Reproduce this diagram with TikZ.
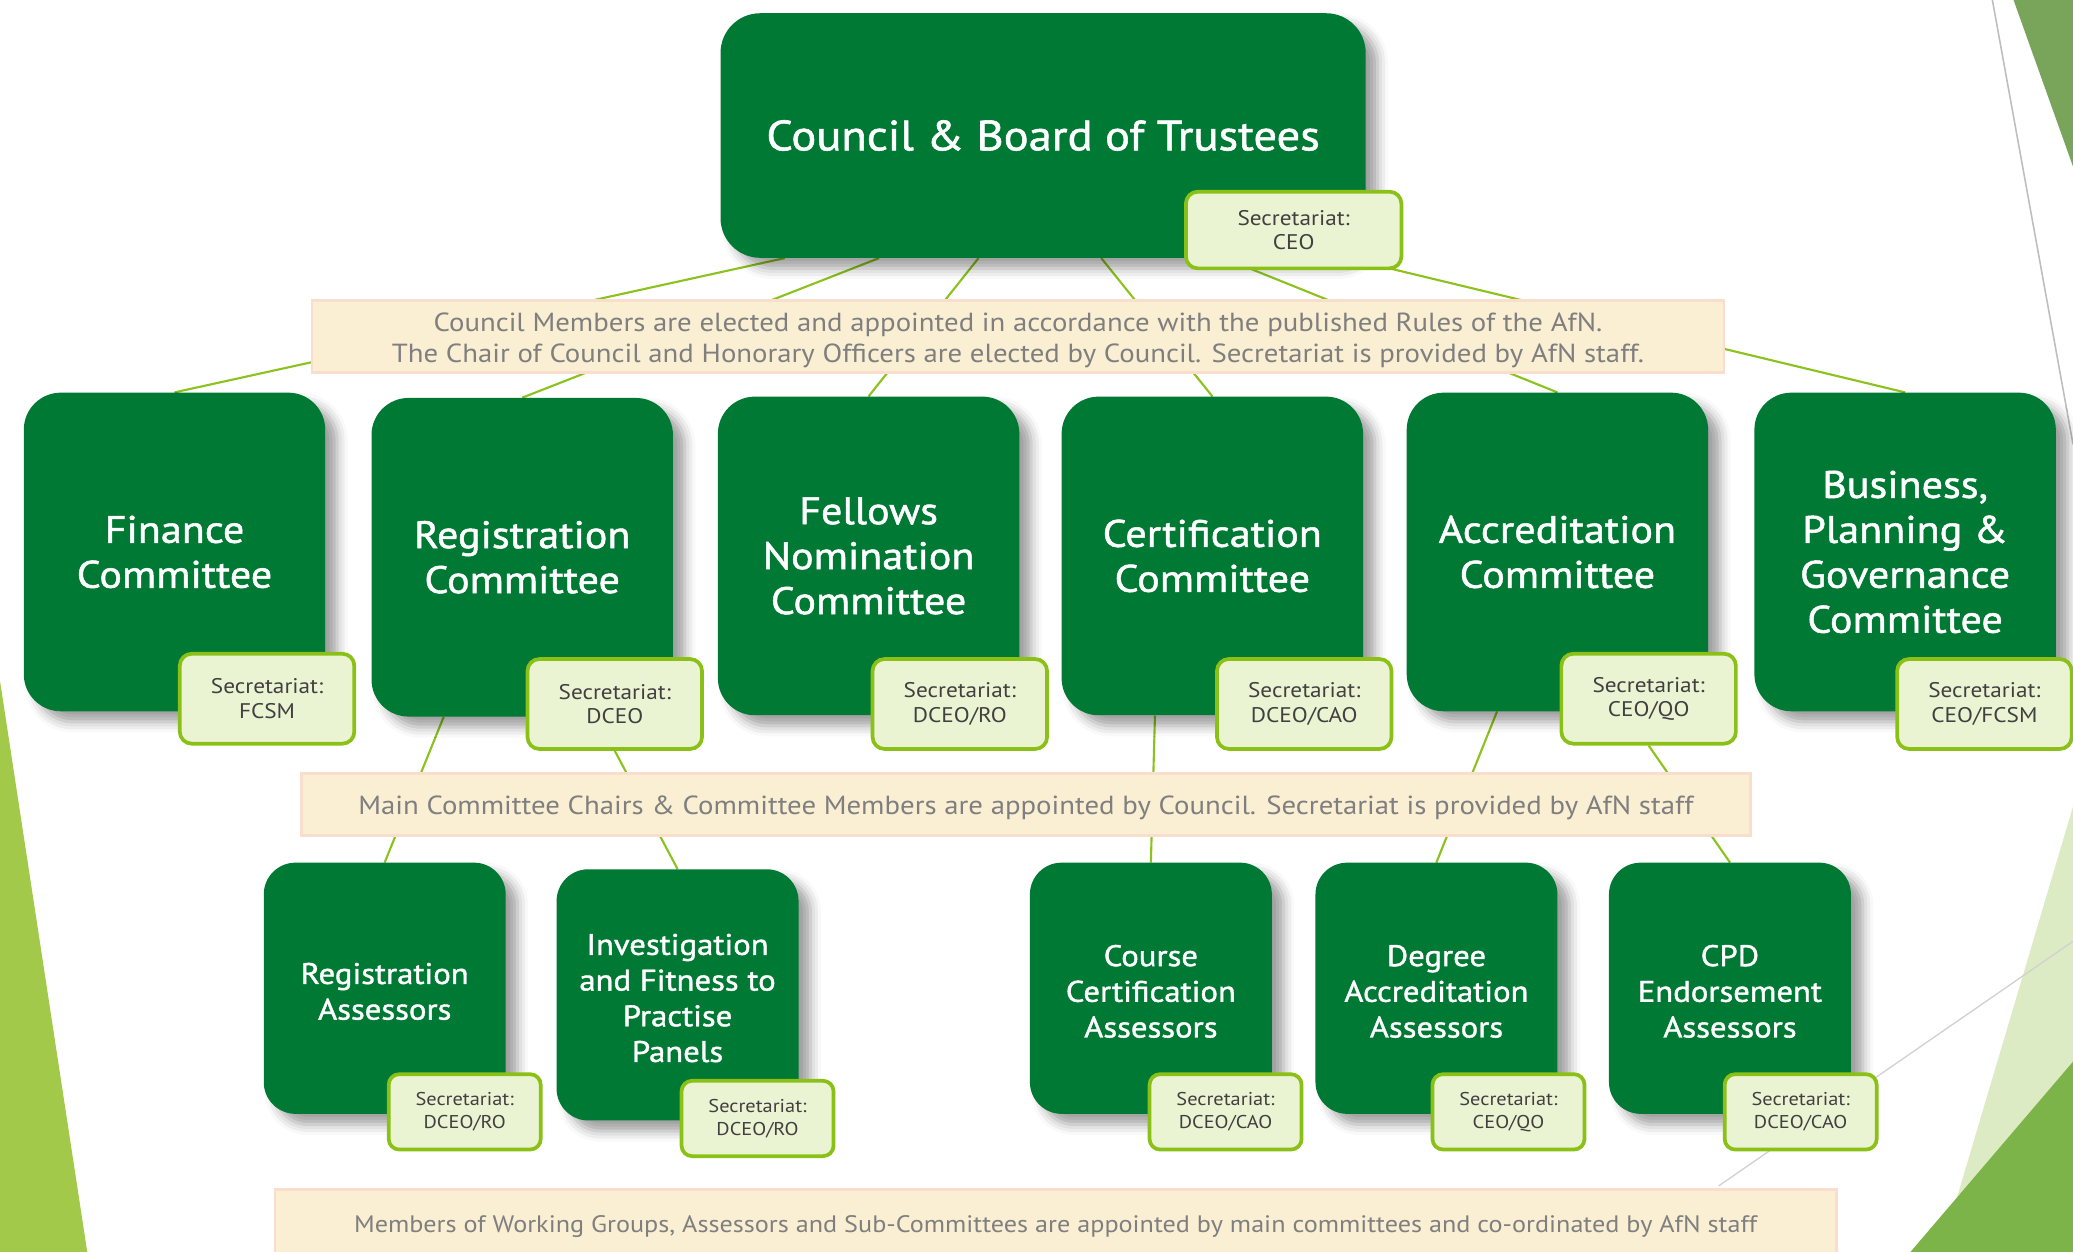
\documentclass[tikz,border=0pt]{standalone}
\usepackage{fontspec}
\setmainfont{PT Sans}[FakeStretch=1.1]
\newfontfamily\headfont{PT Sans}[FakeStretch=1.1, FakeBold=1.3]
\usetikzlibrary{calc,shadows.blur}
\newcommand\dropby[1]{\rule{0pt}{\dimexpr\fontcharht\font`l+#1\relax}}
\definecolor{agreen}{RGB}{0,121,52}
\definecolor{secfill}{RGB}{234,244,211}
\definecolor{secborder}{RGB}{139,192,23}
\definecolor{sectext}{RGB}{64,64,64}
\definecolor{bannerfill}{RGB}{250,239,211}
\definecolor{bannerborder}{RGB}{249,221,205}
\definecolor{bannertext}{RGB}{127,127,127}
\definecolor{linkgreen}{RGB}{139,194,30}
\definecolor{decolight}{RGB}{162,201,74}
\definecolor{decotop}{RGB}{120,165,90}
\definecolor{decopale}{RGB}{221,235,197}
\definecolor{decodark}{RGB}{125,180,74}
\definecolor{decogray}{RGB}{190,190,190}
\pgfdeclarelayer{bg}
\pgfsetlayers{bg,main}
\tikzset{
  greenbox/.style={fill=agreen, draw=none, rounded corners=28pt, text=white, align=center, inner sep=0pt,
    blur shadow={shadow xshift=9pt, shadow yshift=-8pt, shadow blur radius=8pt, shadow opacity=38}},
  bigbox/.style={greenbox, minimum width=228pt, minimum height=241pt, font=\headfont\fontsize{29}{34}\selectfont},
  smallbox/.style={greenbox, rounded corners=24pt, minimum width=183pt, minimum height=190pt, font=\headfont\fontsize{22.5}{27}\selectfont},
  secbox/.style={fill=secfill, draw=secborder, line width=2.8pt, rounded corners=9pt, text=sectext, align=center, inner sep=0pt,
    minimum width=132pt, minimum height=68pt, font=\fontsize{16}{18.5}\selectfont},
  secsmall/.style={secbox, minimum width=115pt, minimum height=57pt, rounded corners=8pt, font=\fontsize{14}{17}\selectfont},
  banner/.style={fill=bannerfill, draw=bannerborder, line width=2.2pt, text=bannertext, align=center, inner sep=0pt,
    font=\fontsize{19.8}{24}\selectfont},
  link/.style={draw=linkgreen, line width=1.6pt},
  decoline/.style={draw=decogray, line width=1.2pt}
}
\begin{document}
\begin{tikzpicture}[x=1pt,y=-1pt]
\useasboundingbox (0,0) rectangle (1568,947);
% ---------- decorations ----------
\fill[decolight] (0,515) -- (66,947) -- (0,947) -- cycle;
\fill[decotop] (1523,0) -- (1568,0) -- (1568,126) -- cycle;
\draw[decoline] (1507,0) -- (1568,336);
\fill[decopale] (1568,610) -- (1468,947) -- (1568,947) -- cycle;
\fill[decodark] (1568,803) -- (1445,947) -- (1568,947) -- cycle;
\draw[decoline, draw=decogray!70, line width=1pt] (1300,897) -- (1568,712);
% ---------- top ----------
\node[greenbox, rounded corners=30pt, minimum width=488pt, minimum height=185pt, font=\headfont\fontsize{32}{37}\selectfont] (council) at (789,102.5) {Council \& Board of Trustees};
\node[secbox, minimum width=163pt, minimum height=58pt] (seccouncil) at (978.5,174) {Secretariat:\\CEO};
\node[banner, minimum width=1068pt, minimum height=55pt] (ban1) at (770,254.5) {\dropby{6pt}Council Members are elected and appointed in accordance with the published Rules of the AfN.\\The Chair of Council and Honorary Officers are elected by Council. Secretariat is provided by AfN staff.};
% ---------- row 1 ----------
\node[bigbox] (fin) at (132,417.5) {Finance\\Committee};
\node[bigbox] (reg) at (395,421.5) {Registration\\Committee};
\node[bigbox] (fel) at (657,420.5) {Fellows\\Nomination\\Committee};
\node[bigbox] (cer) at (917,420.5) {Certification\\Committee};
\node[bigbox] (acc) at (1178,417.5) {Accreditation\\Committee};
\node[bigbox] (bus) at (1441,417.5) {Business,\\Planning \&\\Governance\\Committee};
\node[secbox] (secfin) at (202,528.5) {Secretariat:\\FCSM};
\node[secbox] (secreg) at (465,532.5) {Secretariat:\\DCEO};
\node[secbox] (secfel) at (726,532.5) {Secretariat:\\DCEO/RO};
\node[secbox] (seccer) at (986.5,532.5) {Secretariat:\\DCEO/CAO};
\node[secbox] (secacc) at (1247,528.5) {Secretariat:\\CEO/QO};
\node[secbox] (secbus) at (1501,532.5) {Secretariat:\\CEO/FCSM};
% ---------- banner 2 ----------
\node[banner, minimum width=1096pt, minimum height=47pt] (ban2) at (776,608.5) {\dropby{6pt}Main Committee Chairs \& Committee Members are appointed by Council. Secretariat is provided by AfN staff};
% ---------- row 2 ----------
\node[smallbox] (ra) at (291,747.5) {\dropby{5pt}Registration\\Assessors};
\node[smallbox] (inv) at (512.5,752.5) {\dropby{5pt}Investigation\\and Fitness to\\Practise\\Panels};
\node[smallbox] (cc) at (870.5,747.5) {\dropby{5pt}Course\\Certification\\Assessors};
\node[smallbox] (da) at (1086.5,747.5) {\dropby{5pt}Degree\\Accreditation\\Assessors};
\node[smallbox] (cpd) at (1308.5,747.5) {\dropby{5pt}CPD\\Endorsement\\Assessors};
\node[secsmall] (secra) at (351.5,841) {Secretariat:\\DCEO/RO};
\node[secsmall] (secinv) at (573,846) {Secretariat:\\DCEO/RO};
\node[secsmall] (seccc) at (927,841) {Secretariat:\\DCEO/CAO};
\node[secsmall] (secda) at (1141,841) {Secretariat:\\CEO/QO};
\node[secsmall] (seccpd) at (1362,841) {Secretariat:\\DCEO/CAO};
% ---------- banner 3 ----------
\node[banner, minimum width=1181pt, minimum height=52pt, font=\fontsize{18}{22}\selectfont] (ban3) at (798.5,926) {\dropby{4pt}Members of Working Groups, Assessors and Sub-Committees are appointed by main committees and co-ordinated by AfN staff};
% ---------- connectors ----------
\begin{pgfonlayer}{bg}
\draw[link] ($(council.south west)!0.10!(council.south east)$) -- (fin.north);
\draw[link] ($(council.south west)!0.246!(council.south east)$) -- (reg.north);
\draw[link] ($(council.south west)!0.40!(council.south east)$) -- (fel.north);
\draw[link] ($(council.south west)!0.59!(council.south east)$) -- (cer.north);
\draw[link] ($(council.south west)!0.78!(council.south east)$) -- (acc.north);
\draw[link] ($(council.south west)!0.97!(council.south east)$) -- (bus.north);
\draw[link] ($(reg.south west)!0.24!(reg.south east)$) -- (ra.north);
\draw[link] (secreg.south) -- (inv.north);
\draw[link] ($(cer.south west)!0.31!(cer.south east)$) -- (cc.north);
\draw[link] ($(acc.south west)!0.30!(acc.south east)$) -- (da.north);
\draw[link] (secacc.south) -- (cpd.north);
\end{pgfonlayer}
\end{tikzpicture}
\end{document}
